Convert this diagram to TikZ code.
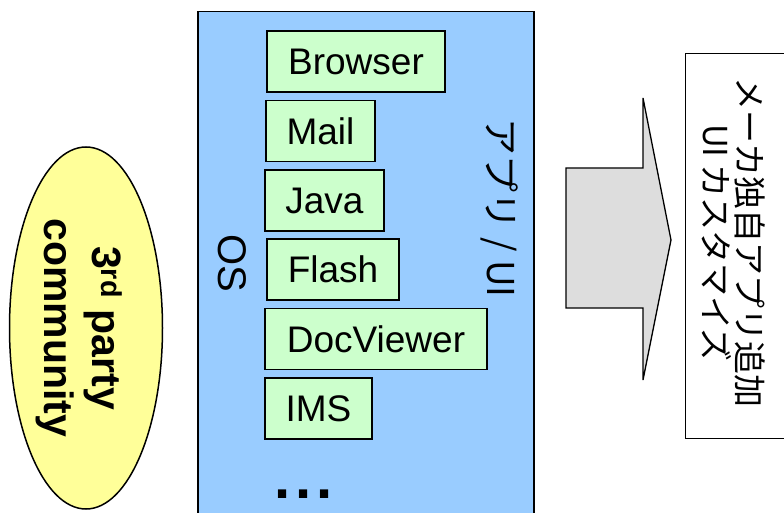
\documentclass[tikz,border=0pt]{standalone}
\usepackage{fontspec}
\setmainfont{Liberation Sans}
\newfontfamily\jp{Noto Sans CJK JP}
\usetikzlibrary{shapes.geometric}
\definecolor{osblue}{HTML}{99CCFF}
\definecolor{appgreen}{HTML}{CCFFCC}
\definecolor{commyellow}{HTML}{FFFF99}
\definecolor{arrowgray}{HTML}{DDDDDD}
\begin{document}
\begin{tikzpicture}[x=1pt,y=-1pt,
  frame/.style={draw=black, line width=1.5pt, inner sep=0pt},
  app/.style={frame, fill=appgreen, minimum height=61pt, font=\fontsize{37}{44}\selectfont},
  vlabel/.style={rotate=-90, align=center, inner sep=0pt}]
\useasboundingbox (0,0) rectangle (784,513);
% OS box
\node[frame, fill=osblue, minimum width=336pt, minimum height=520pt, anchor=north west] (os) at (197,11) {};
\node[vlabel, font=\fontsize{40}{48}\selectfont] (oslabel) at (232,263) {OS};
\node[vlabel, font=\jp\fontsize{37}{44}\selectfont] (applabel) at (500,208) {アプリ / UI};
% apps
\node[app, minimum width=178pt] (browser) at (356,61.5) {Browser};
\node[app, minimum width=109pt] (mail) at (320.5,131) {Mail};
\node[app, minimum width=119pt] (java) at (324.5,200.5) {Java};
\node[app, minimum width=132pt] (flash) at (333,269.5) {Flash};
\node[app, minimum width=222pt] (docviewer) at (376,339) {DocViewer};
\node[app, minimum width=107pt] (ims) at (318.5,408.5) {IMS};
\node[anchor=base, inner sep=0pt, font=\bfseries\fontsize{58}{58}\selectfont] (dots) at (303.5,498) {.\kern4.5pt.\kern4.5pt.};
% community
\node[ellipse, frame, fill=commyellow, minimum width=153pt, minimum height=362pt] (comm) at (86,328) {};
\node[vlabel, font=\bfseries\fontsize{41}{48}\selectfont] (commlabel) at (79,328) {3\textsuperscript{rd} party\\community};
% arrow
\draw[line width=1.3pt, fill=arrowgray, line join=miter] (566,168) -- (643,168) -- (643,98) -- (671,240) -- (643,380) -- (643,308) -- (566,308) -- cycle;
% maker box
\node[frame, line width=1.3pt, fill=white, minimum width=120pt, minimum height=385pt, anchor=north west] (maker) at (685,53) {};
\node[vlabel, font=\jp\fontsize{33}{34}\selectfont] (makerlabel) at (733.5,243) {メーカ独自アプリ追加\\UI カスタマイズ};
\end{tikzpicture}
\end{document}
